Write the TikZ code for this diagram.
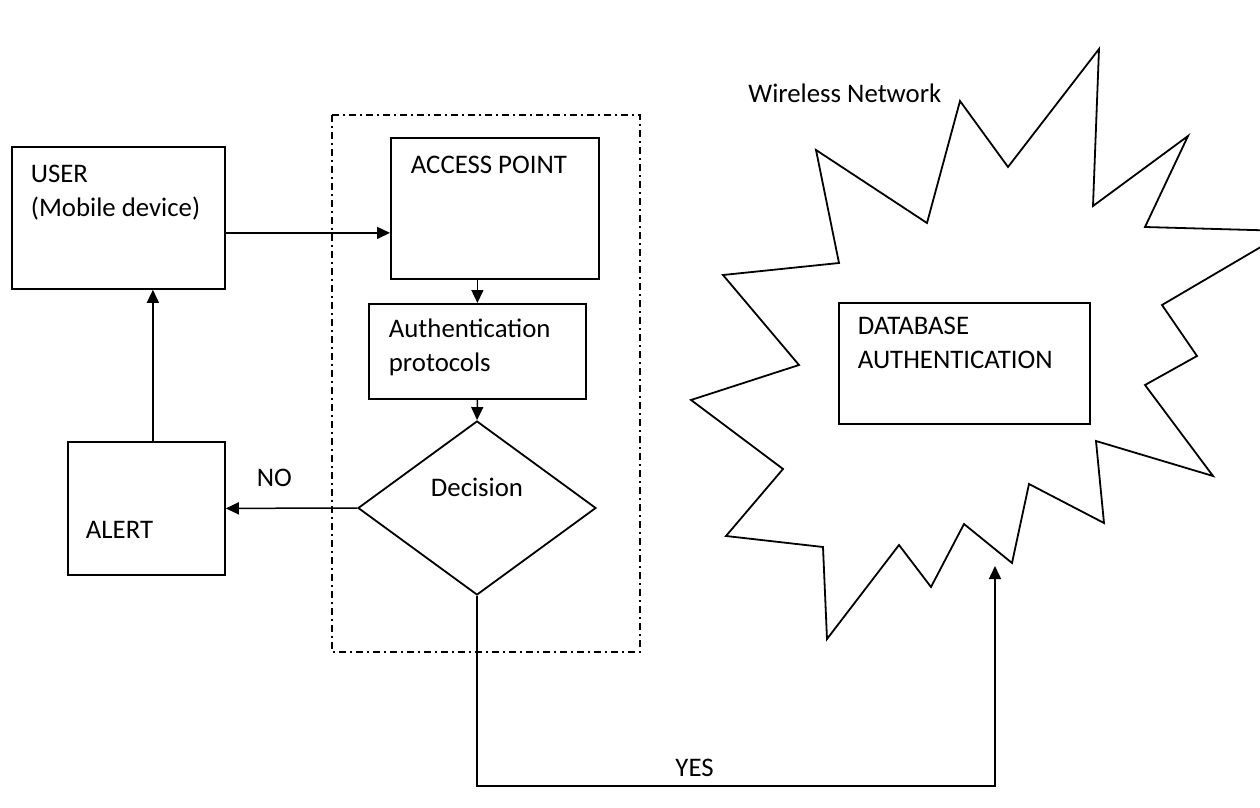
\documentclass[tikz,border=0pt]{standalone}
\usepackage{fontspec}
\setmainfont{Carlito}
\usetikzlibrary{arrows.meta,shapes.geometric,positioning}

\tikzset{
  box/.style={draw, rectangle, anchor=north west, align=flush left, inner ysep=0pt,
    line width=0.9pt, font=\fontsize{13.4}{17}\selectfont},
  decision/.style={draw, diamond, line width=0.9pt, inner sep=0pt,
    minimum width=119pt, minimum height=87pt, text height=8pt, text depth=20pt,
    font=\fontsize{13.4}{17}\selectfont},
  lbl/.style={font=\fontsize{13.4}{17}\selectfont},
  frame/.style={line width=0.7pt, dash pattern=on 3.5pt off 2pt on 1pt off 2pt},
  burst/.style={line width=0.9pt, line join=miter},
  arr/.style={->, line width=0.75pt}
}

\begin{document}
\begin{tikzpicture}[x=0.5pt,y=-0.5pt,>={Triangle[length=6.5pt,width=6pt]}]
\useasboundingbox (0,0) rectangle (1260,808);
\clip (0,0) rectangle (1260,808);

% left side
\node[box, inner xsep=9.5pt, text width=87.5pt, text height=18pt, text depth=53pt]
  (user) at (11,146) {USER\\(Mobile device)};
\node[box, inner xsep=9pt, text width=60.5pt, text height=48.5pt, text depth=18pt]
  (alert) at (67,441) {ALERT};

% access point group
\draw[frame] (332,115) rectangle (640,652);
\node[box, inner xsep=10pt, text width=84pt, text height=18pt, text depth=52.5pt]
  (ap) at (390,137) {ACCESS POINT};
\node[box, inner xsep=10pt, text width=88.5pt, text height=17pt, text depth=30.5pt]
  (auth) at (368,303) {Authentication\\protocols};
\node[decision] (dec) at (477,508) {Decision};

% wireless network
\draw[burst] (1099,49) -- (1093,206) -- (1188,136) -- (1145,227) -- (1288,231)
  -- (1162,305) -- (1197,356) -- (1145,385) -- (1213,476) -- (1096,441)
  -- (1104,523) -- (1029,484) -- (1012,563) -- (964,524) -- (931,587)
  -- (899,545) -- (827,639) -- (823,547) -- (726,536) -- (783,469)
  -- (691,400) -- (799,365) -- (723,275) -- (839,263) -- (816,150)
  -- (927,223) -- (960,101) -- (1008,167) -- cycle;
\node[lbl, anchor=base west, inner sep=0pt] (wn) at (748,103) {Wireless Network};
\node[box, inner xsep=9.5pt, text width=106.5pt, text height=16pt, text depth=44.5pt]
  (db) at (838,302) {DATABASE\\AUTHENTICATION};
\coordinate (dbin) at (995,566);

% connectors
\draw[arr] ([yshift=-7.5pt]user.east) -- ([yshift=-7.5pt]user.east -| ap.west);
\draw[arr] (ap.south -| auth.north) -- (auth.north);
\draw[arr] (auth.south) -- (dec.north);
\draw[arr] (dec.west) -- node[lbl, pos=0.63, above=7pt] {NO} (alert.east);
\draw[arr] ([xshift=3.25pt]alert.north) -- ([xshift=3.25pt]alert.north |- user.south);
\draw[arr] (dec.south) -- ++(0,190) -| node[lbl, pos=0.21, above=1pt] {YES} (dbin);

\end{tikzpicture}
\end{document}
